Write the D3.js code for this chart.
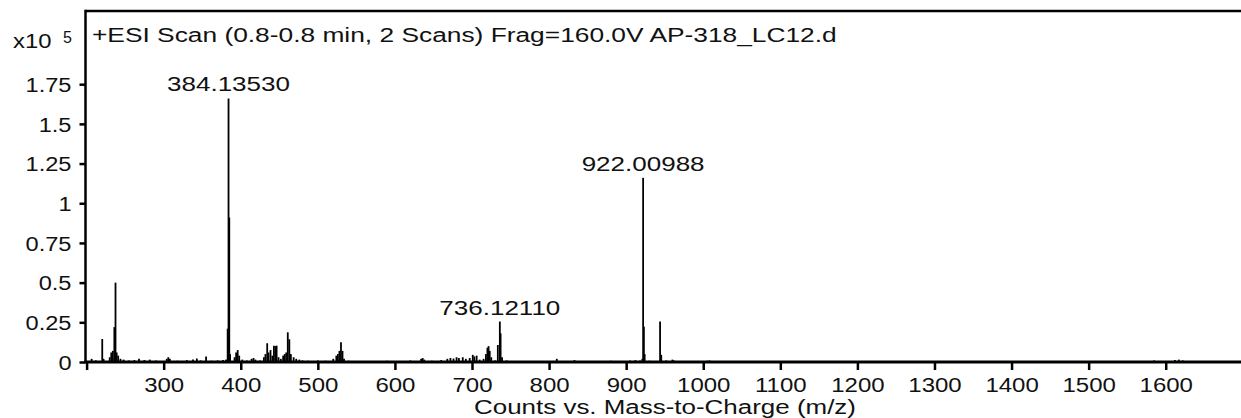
<!DOCTYPE html>
<html>
<head>
<meta charset="utf-8">
<script src="https://cdn.jsdelivr.net/npm/d3@7"></script>
<style>
  html, body { margin: 0; padding: 0; background: #fff; }
  svg { display: block; }
  text { font-family: "Liberation Sans", Arial, sans-serif; fill: #111; }
</style>
</head>
<body>
<svg id="chart" width="1241" height="418"></svg>
<script>
// ---- data (intensity in units of 10^5 counts) ----
const peakMz = [
  206.5, 212, 220.3, 222, 230, 232, 234, 236, 237.5, 239, 241, 244, 248, 255, 262, 268, 275, 282, 290,
  304, 306, 308, 318, 330, 338, 343, 348, 355, 362, 370, 377, 381,
  383, 384.1353, 385.1, 386.2, 392, 394, 396, 398, 402, 408, 414, 416.5, 419, 425,
  430, 432, 434.3, 436, 438.6, 441, 443, 445, 446.5, 449, 452, 455, 457, 459, 461, 463, 465, 468.6,
  472, 476, 480, 487, 500, 510, 520, 524, 526, 528, 530, 532, 534, 540, 552, 568, 590, 620,
  634, 636, 638, 648, 660, 668, 672, 676, 680, 683, 688, 692, 697, 701, 703, 706, 710, 715,
  718, 720, 721.5, 723, 725, 730, 733.5, 736.1211, 737.1, 739, 745, 760, 780, 810, 833, 860,
  880, 892, 905, 912, 918, 921, 922.00988, 923, 924, 930, 944, 945.5, 952, 960, 962, 975,
  1005, 1008, 1080, 1225, 1585, 1612, 1617, 1622
];
const peakIntensity = [
  0.02, 0.01, 0.145, 0.02, 0.03, 0.06, 0.07, 0.22, 0.5, 0.06, 0.04, 0.02, 0.015, 0.01, 0.012, 0.02, 0.012, 0.015, 0.01,
  0.02, 0.03, 0.02, 0.008, 0.012, 0.015, 0.022, 0.01, 0.035, 0.008, 0.01, 0.012, 0.015,
  0.21, 1.66, 0.91, 0.05, 0.03, 0.06, 0.075, 0.04, 0.015, 0.01, 0.02, 0.025, 0.015, 0.01,
  0.03, 0.05, 0.118, 0.06, 0.075, 0.04, 0.103, 0.1, 0.103, 0.03, 0.02, 0.04, 0.05, 0.06, 0.187, 0.143, 0.05, 0.03,
  0.02, 0.015, 0.01, 0.008, 0.01, 0.008, 0.02, 0.04, 0.05, 0.07, 0.124, 0.07, 0.02, 0.008, 0.006, 0.005, 0.008, 0.01,
  0.02, 0.025, 0.015, 0.008, 0.012, 0.02, 0.025, 0.022, 0.03, 0.025, 0.03, 0.02, 0.025, 0.045, 0.035, 0.04, 0.015, 0.02,
  0.05, 0.09, 0.1, 0.07, 0.03, 0.01, 0.107, 0.255, 0.18, 0.03, 0.01, 0.005, 0.005, 0.02, 0.012, 0.005,
  0.008, 0.006, 0.01, 0.012, 0.01, 0.02, 1.16, 0.223, 0.05, 0.008, 0.255, 0.045, 0.01, 0.015, 0.01, 0.006,
  0.008, 0.01, 0.004, 0.005, 0.01, 0.012, 0.015, 0.01
];
const labelMz = [384.1353, 736.1211, 922.00988];
const labelIntensity = [1.66, 0.255, 1.16];
const labelText = ["384.13530", "736.12110", "922.00988"];
const xTicks = [200, 300, 400, 500, 600, 700, 800, 900, 1000, 1100, 1200, 1300, 1400, 1500, 1600, 1700];
const xTickLabels = ["", "300", "400", "500", "600", "700", "800", "900", "1000", "1100", "1200", "1300", "1400", "1500", "1600", ""];
const yTicks = [0, 0.25, 0.5, 0.75, 1, 1.25, 1.5, 1.75];
const yTickLabels = ["0", "0.25", "0.5", "0.75", "1", "1.25", "1.5", "1.75"];
const titleText = "+ESI Scan (0.8-0.8 min, 2 Scans) Frag=160.0V AP-318_LC12.d";
const xTitle = "Counts vs. Mass-to-Charge (m/z)";

// ---- layout ----
const svg = d3.select("#chart");
const pLeft = 85.5, pRight = 1243, pTop = 11, pBottom = 362;
const x = d3.scaleLinear().domain([200, 1700]).range([86.6, 86.6 + 1500 * 0.7708]);
const y = d3.scaleLinear().domain([0, 2.211]).range([pBottom, pTop]);
const FS = 20;

// widen glyphs horizontally (the reference font renders wider than Arial)
function stretch(sel, f) {
  sel.each(function () {
    const w = this.getComputedTextLength();
    if (w > 0) {
      this.setAttribute("textLength", w * f);
      this.setAttribute("lengthAdjust", "spacingAndGlyphs");
    }
  });
}

// peaks
svg.append("g").selectAll("line").data(peakMz).join("line")
  .attr("x1", d => x(d)).attr("x2", d => x(d))
  .attr("y1", y(0)).attr("y2", (d, i) => y(peakIntensity[i]))
  .attr("stroke", "#000").attr("stroke-width", 1.8);

// frame: top and left lines
svg.append("line").attr("x1", pLeft).attr("x2", pRight).attr("y1", pTop).attr("y2", pTop)
  .attr("stroke", "#000").attr("stroke-width", 2.5);
svg.append("line").attr("x1", pLeft).attr("x2", pLeft).attr("y1", pTop - 1.2).attr("y2", pBottom)
  .attr("stroke", "#000").attr("stroke-width", 2.5);

// x axis
const xAxis = d3.axisBottom(x).tickValues(xTicks).tickSize(8).tickPadding(7.5)
  .tickFormat((d, i) => xTickLabels[i]);
const gx = svg.append("g").attr("transform", `translate(0,${pBottom})`).call(xAxis);
gx.select(".domain").remove();
gx.selectAll(".tick line").attr("stroke", "#000").attr("stroke-width", 2.5);
gx.selectAll(".tick text").attr("font-size", FS).attr("font-family", "Liberation Sans, Arial, sans-serif").attr("fill", "#111");
stretch(gx.selectAll(".tick text"), 1.2);
svg.append("line").attr("x1", pLeft - 1).attr("x2", pRight).attr("y1", pBottom).attr("y2", pBottom)
  .attr("stroke", "#000").attr("stroke-width", 3);

// y axis
const yAxis = d3.axisLeft(y).tickValues(yTicks).tickSize(6).tickPadding(8)
  .tickFormat((d, i) => yTickLabels[i]);
const gy = svg.append("g").attr("transform", `translate(${pLeft},0)`).call(yAxis);
gy.select(".domain").remove();
gy.selectAll(".tick line").attr("stroke", "#000").attr("stroke-width", 2.5);
gy.selectAll(".tick text").attr("font-size", FS).attr("dy", "0.36em")
  .attr("font-family", "Liberation Sans, Arial, sans-serif").attr("fill", "#111");
stretch(gy.selectAll(".tick text"), 1.18);

// exponent label
const ex1 = svg.append("text").attr("x", 13).attr("y", 48).attr("font-size", FS).text("x10");
stretch(ex1, 1.19);
svg.append("text").attr("x", 63).attr("y", 42.5).attr("font-size", 16).text("5");

// title
const tt = svg.append("text").attr("x", 92).attr("y", 41.5).attr("font-size", FS).text(titleText);
stretch(tt, 1.316);

// peak labels
const pl = svg.append("g").selectAll("text").data(labelMz).join("text")
  .attr("x", d => x(d)).attr("y", (d, i) => y(labelIntensity[i]) - 7)
  .attr("text-anchor", "middle").attr("font-size", FS)
  .text((d, i) => labelText[i]);
stretch(pl, 1.3);

// x axis title
const xt = svg.append("text").attr("x", 665).attr("y", 414).attr("text-anchor", "middle")
  .attr("font-size", 19.5).text(xTitle);
stretch(xt, 1.33);
</script>
</body>
</html>
